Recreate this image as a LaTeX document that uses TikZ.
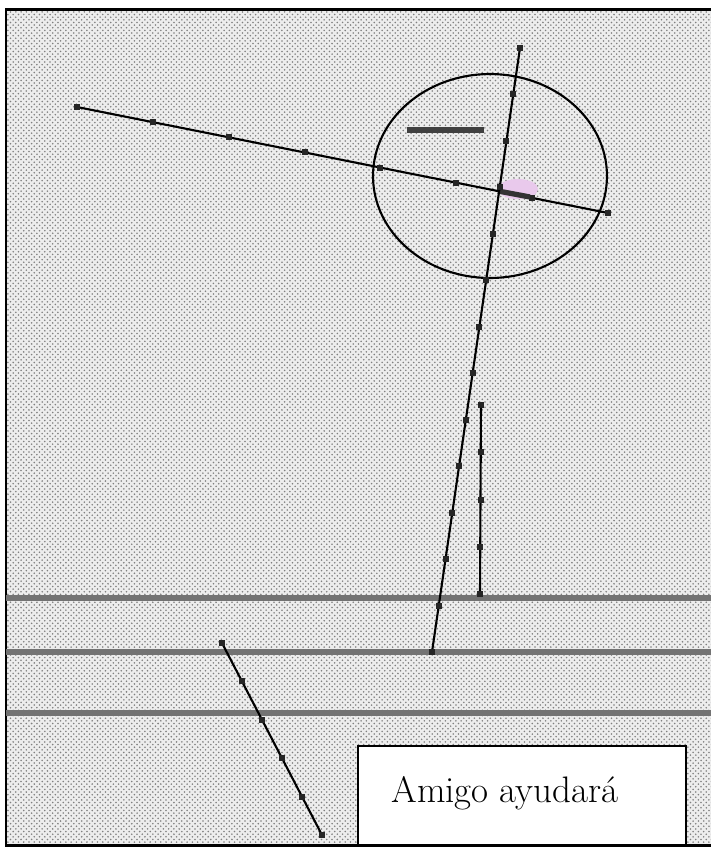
\documentclass[tikz,border=0pt]{standalone}
\usepackage{tikz}
\usetikzlibrary{positioning, calc, shapes.geometric, patterns}
\definecolor{carta}{HTML}{EDEDED}
\definecolor{macchia}{HTML}{E9C9EC}
\tikzset{
	% retta con punti
	retta/.style={line width=1.2pt, black},
	% puntino sulla retta
	punto/.style={draw=none, rectangle, fill=black!85, minimum size=0.12cm, inner sep=0pt},
	% banda orizzontale
	banda/.style={line width=3pt, black!55},
	% cerchio
	lente/.style={draw, line width=1.2pt, ellipse, minimum width=4.68cm, minimum height=4.08cm, inner sep=0pt},
	% riquadro del testo
	scatola/.style={draw, line width=1.6pt, fill=white, rectangle, minimum width=6.56cm,
	               minimum height=1.98cm, inner sep=0pt},
}

\begin{document}
\begin{tikzpicture}[x=0.02cm, y=-0.02cm]
    \useasboundingbox (0,0) rectangle (711,850);
    % ---------------- sfondo ----------------
    \fill[carta] (6,9) rectangle (711,845);
    \fill[pattern=crosshatch dots, pattern color=black!50] (6,9) rectangle (711,845);
    \draw[line width=1.7pt] (711,9) -- (6,9) -- (6,845) -- (711,845);

    % ---------------- bande ----------------
    \foreach \y/\n in {598/1, 652/2, 713/3} {
        \coordinate (bs\n) at (6,\y);
        \coordinate (bd\n) at (711,\y);
        \draw[banda] (bs\n) -- (bd\n);
    }

    % ---------------- cerchio ----------------
    \fill[macchia] (518,189) ellipse [x radius=20, y radius=10];
    \node[lente] (cerchio) at (490,176) {};
    \coordinate (tr1) at (407,130);
    \coordinate (tr2) at (484,130);
    \draw[line width=3.2pt, black!75] (tr1) -- (tr2);

    % ---------------- rette ----------------
    % retta A
    \coordinate (a1) at (77,107);
    \coordinate (a2) at (608,213);
    \draw[retta] (a1) -- (a2);
    \foreach \i in {0,...,7}
        \node[punto] (pA\i) at ($(a1)!\i/7!(a2)$) {};
    \coordinate (m1) at (498,191);
    \coordinate (m2) at (530,197);
    \draw[line width=3pt, black!80] (m1) -- (m2);
    % retta B
    \coordinate (b1) at (520,48);
    \coordinate (b2) at (432,652);
    \draw[retta] (b1) -- (b2);
    \foreach \i in {0,...,13}
        \node[punto] (pB\i) at ($(b1)!\i/13!(b2)$) {};
    % retta C
    \coordinate (c1) at (481,405);
    \coordinate (c2) at (480,594);
    \draw[retta] (c1) -- (c2);
    \foreach \i in {0,...,4}
        \node[punto] (pC\i) at ($(c1)!\i/4!(c2)$) {};
    % retta D
    \coordinate (d1) at (222,643);
    \coordinate (d2) at (322,835);
    \draw[retta] (d1) -- (d2);
    \foreach \i in {0,...,5}
        \node[punto] (pD\i) at ($(d1)!\i/5!(d2)$) {};

    % ---------------- riquadro ----------------
    \node[scatola] (riquadro) at (522,795.5) {};
    \node[font=\fontsize{21}{23}\selectfont, anchor=base] (testo) at (505,802) {Amigo ayudará};
  \end{tikzpicture}
\end{document}
